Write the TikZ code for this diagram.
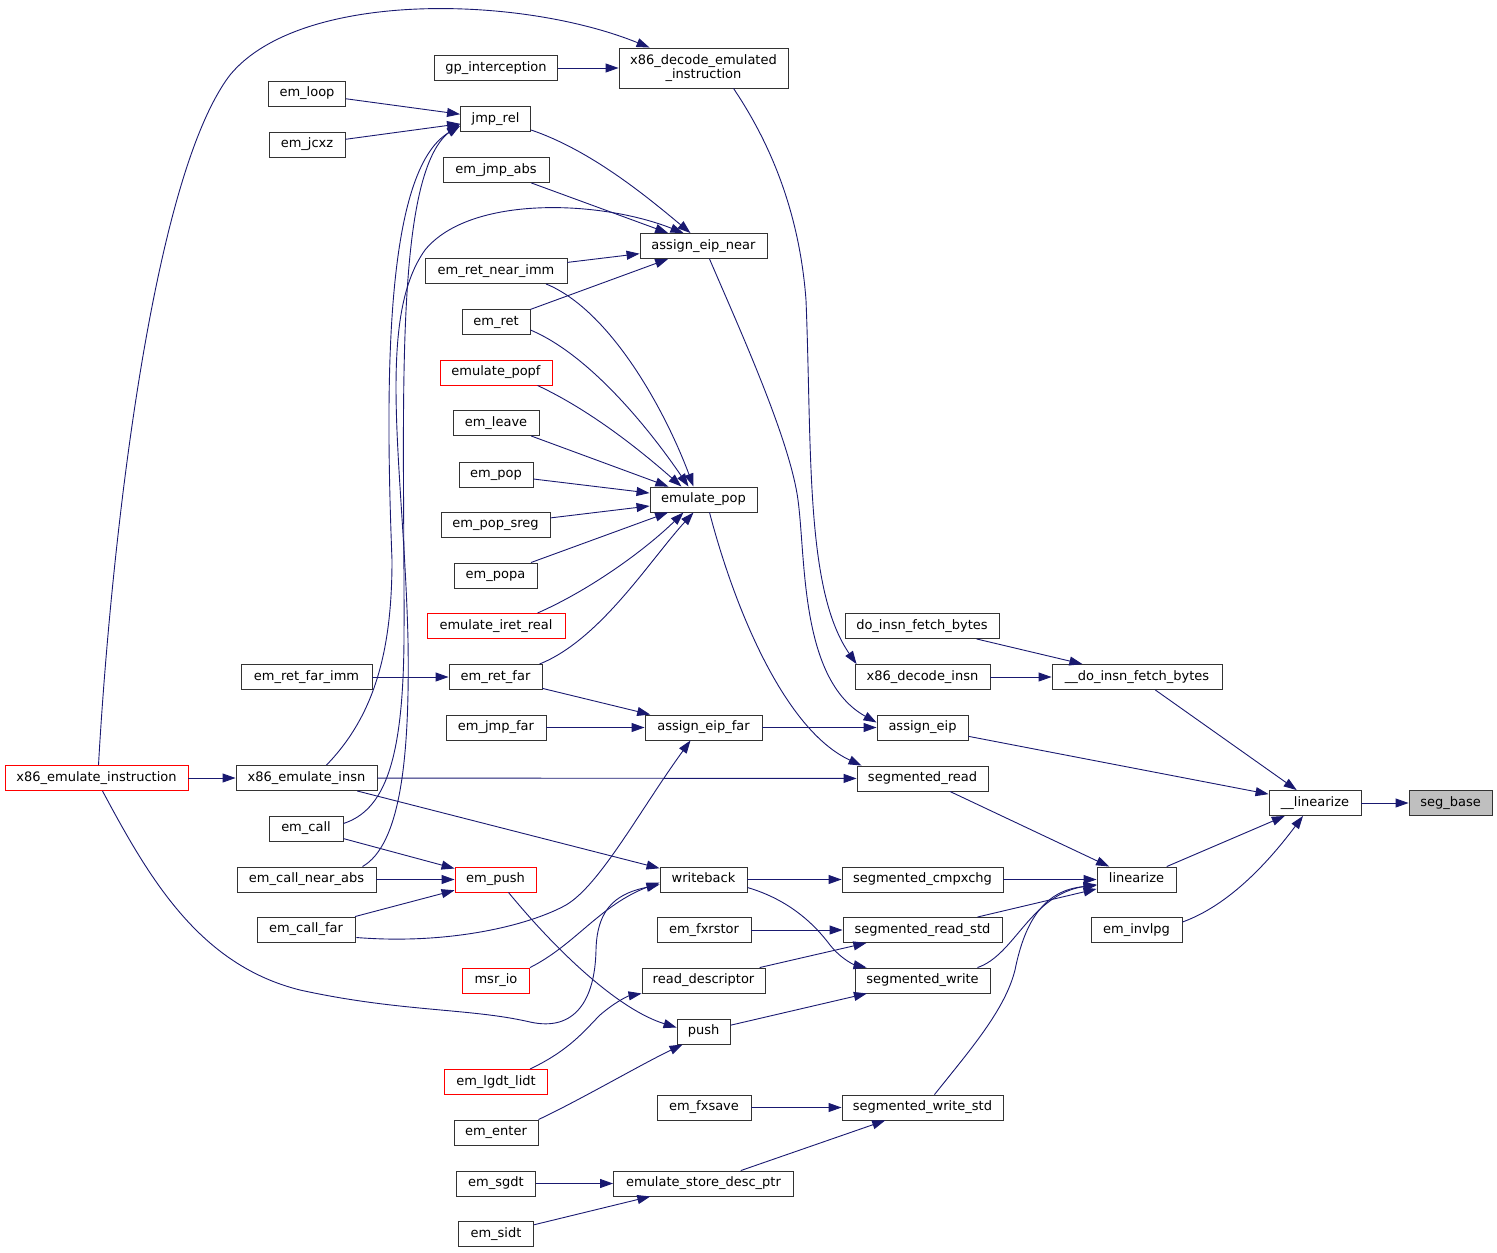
\documentclass[tikz,border=0pt]{standalone}
\usepackage{fontspec}
\setmainfont{DejaVu Sans}
\usetikzlibrary{arrows.meta,calc}
\definecolor{edgeblue}{HTML}{191970}
\begin{document}
\begin{tikzpicture}[x=1pt,y=-1pt]
  \tikzset{fn box/.style={draw=black!80, line width=0.9pt, fill=white, inner sep=0pt, minimum height=25pt, font=\fontsize{13}{14.5}\selectfont},
           fn/.style={fn box, minimum width=#1, text height=9.5pt, text depth=3pt},
           red fn/.style={fn=#1, draw=red},
           calls/.style={draw=edgeblue, line width=0.9pt, -{Triangle[length=13pt,width=9pt]}}}
  \useasboundingbox (0,0) rectangle (1497,1253);
  \node[fn=123] (gpint) at (496,68) {gp\_interception};
  \node[fn box, minimum width=169, minimum height=40, align=center] (xdecem) at (703.5,68) {x86\_decode\_emulated\\\_instruction};
  \node[fn=77] (emloop) at (307,93.5) {em\_loop};
  \node[fn=70] (jmprel) at (495.5,119) {jmp\_rel};
  \node[fn=76] (emjcxz) at (307,144.5) {em\_jcxz};
  \node[fn=106] (emjmpabs) at (496,170) {em\_jmp\_abs};
  \node[fn=127] (eipnear) at (703.5,246) {assign\_eip\_near};
  \node[fn=142] (emretnearimm) at (496,271) {em\_ret\_near\_imm};
  \node[fn=68] (emret) at (496,322) {em\_ret};
  \node[red fn=112] (emulatepopf) at (496,372.5) {emulate\_popf};
  \node[fn=86] (emleave) at (496,423) {em\_leave};
  \node[fn=74] (empop) at (496,474.5) {em\_pop};
  \node[fn=107] (emulatepop) at (703.5,499.5) {emulate\_pop};
  \node[fn=109] (empopsreg) at (495.5,524.5) {em\_pop\_sreg};
  \node[fn=83] (empopa) at (495.5,575.5) {em\_popa};
  \node[red fn=138] (emulateiret) at (496,626) {emulate\_iret\_real};
  \node[fn=154] (doinsnfetch) at (922,626) {do\_insn\_fetch\_bytes};
  \node[fn=131] (emretfarimm) at (306.5,677) {em\_ret\_far\_imm};
  \node[fn=93] (emretfar) at (495.5,677) {em\_ret\_far};
  \node[fn=135] (xdecinsn) at (922.5,677) {x86\_decode\_insn};
  \node[fn=170] (doinsnfetchu) at (1137,677) {\_\_do\_insn\_fetch\_bytes};
  \node[fn=100] (emjmpfar) at (496,727.5) {em\_jmp\_far};
  \node[fn=117] (eipfar) at (703.5,727.5) {assign\_eip\_far};
  \node[fn=91] (assigneip) at (922.5,727.5) {assign\_eip};
  \node[red fn=183] (x86emuinstr) at (96.5,778) {x86\_emulate\_instruction};
  \node[fn=141] (x86emuinsn) at (306.5,778) {x86\_emulate\_insn};
  \node[fn=131] (segread) at (922.5,778.5) {segmented\_read};
  \node[fn=92] (linearizeu) at (1315,803) {\_\_linearize};
  \node[fn=83, fill=black!25] (segbase) at (1450.5,803) {seg\_base};
  \node[fn=74] (emcall) at (306,828.5) {em\_call};
  \node[fn=139] (emcallnear) at (306.5,879.5) {em\_call\_near\_abs};
  \node[red fn=81] (empush) at (495.5,879.5) {em\_push};
  \node[fn=87] (writeback) at (703.5,879.5) {writeback};
  \node[fn=161] (segcmpxchg) at (922.5,879.5) {segmented\_cmpxchg};
  \node[fn=79] (linearize) at (1136.5,879.5) {linearize};
  \node[fn=98] (emcallfar) at (306,929.5) {em\_call\_far};
  \node[fn=94] (emfxrstor) at (704,930) {em\_fxrstor};
  \node[fn=159] (segreadstd) at (922.5,930) {segmented\_read\_std};
  \node[fn=91] (eminvlpg) at (1136.5,930) {em\_invlpg};
  \node[red fn=67] (msrio) at (496,980.5) {msr\_io};
  \node[fn=123] (readdesc) at (703.5,980.5) {read\_descriptor};
  \node[fn=135] (segwrite) at (922.5,980.5) {segmented\_write};
  \node[fn=53] (push) at (703.5,1031.5) {push};
  \node[red fn=103] (emlgdt) at (496,1082) {em\_lgdt\_lidt};
  \node[fn=94] (emfxsave) at (704,1107.5) {em\_fxsave};
  \node[fn=161] (segwritestd) at (922.5,1107.5) {segmented\_write\_std};
  \node[fn=84] (ementer) at (496,1132.5) {em\_enter};
  \node[fn=79] (emsgdt) at (496,1183.5) {em\_sgdt};
  \node[fn=180] (esdp) at (703.5,1183.5) {emulate\_store\_desc\_ptr};
  \node[fn=75] (emsidt) at (496,1234) {em\_sidt};

  \draw[calls] (gpint) -- (xdecem);
  \draw[calls] ($(x86emuinstr.north)+(2,0)$) .. controls (110,560) and (150,180) .. (230,75) .. controls (300,-10) and (520,-5) .. ($(xdecem.north west)+(31,0)$);
  \draw[calls] (emloop) -- (jmprel);
  \draw[calls] (emjcxz) -- (jmprel);
  \draw[calls] ($(x86emuinsn.north)+(20,0)$) .. controls (375,715) and (392,650) .. (392,560) .. controls (385,380) and (385,170) .. ($(jmprel.west)+(0,7)$);
  \draw[calls] ($(emcall.east)+(0,-5)$) .. controls (385,810) and (403,760) .. (404,640) .. controls (405,420) and (392,175) .. ($(jmprel.west)+(0,5)$);
  \draw[calls] ($(jmprel.south east)+(0,-2)$) .. controls (590,150) and (645,195) .. ($(eipnear.north)+(-13,0)$);
  \draw[calls] (emjmpabs) -- (eipnear);
  \draw[calls] ($(emcallnear.north)+(56,0)$) .. controls (400,845) and (410,760) .. (408,640) .. controls (404,470) and (375,320) .. (425,250) .. controls (470,195) and (600,200) .. ($(eipnear.north)+(-20,0)$);
  \draw[calls] (emretnearimm) -- (eipnear);
  \draw[calls] (emret) -- (eipnear);
  \draw[calls] ($(emretnearimm.south)+(50,0)$) .. controls (610,310) and (665,410) .. ($(emulatepop.north)+(-10,0)$);
  \draw[calls] ($(emret.east)+(0,8)$) .. controls (590,355) and (650,430) .. ($(emulatepop.north)+(-15,0)$);
  \draw[calls] ($(emulatepopf.south east)+(-15,0)$) .. controls (590,410) and (640,450) .. ($(emulatepop.north)+(-22,0)$);
  \draw[calls] (emleave) -- (emulatepop);
  \draw[calls] (empop) -- (emulatepop);
  \draw[calls] (empopsreg) -- (emulatepop);
  \draw[calls] (empopa) -- (emulatepop);
  \draw[calls] ($(emulateiret.north east)+(-28,0)$) .. controls (590,590) and (645,550) .. ($(emulatepop.south)+(-20,0)$);
  \draw[calls] ($(emretfar.north east)+(-3,0)$) .. controls (600,640) and (650,560) .. ($(emulatepop.south)+(-10,0)$);
  \draw[calls] (emretfarimm) -- (emretfar);
  \draw[calls] (emretfar) -- (eipfar);
  \draw[calls] (emjmpfar) -- (eipfar);
  \draw[calls] ($(emcallfar.east)+(1,8)$) .. controls (450,945) and (530,925) .. (566,905) .. controls (600,885) and (640,810) .. ($(eipfar.south)+(-13,0)$);
  \draw[calls] (eipfar) -- (assigneip);
  \draw[calls] ($(eipnear.south)+(6,0)$) .. controls (740,330) and (790,440) .. (798,500) .. controls (806,560) and (800,680) .. ($(assigneip.west)+(0,-5)$);
  \draw[calls] ($(xdecem.south)+(30,0)$) .. controls (775,150) and (800,220) .. (806,300) .. controls (812,450) and (805,590) .. ($(xdecinsn.north west)+(2,0)$);
  \draw[calls] (xdecinsn) -- (doinsnfetchu);
  \draw[calls] (doinsnfetch) -- (doinsnfetchu);
  \draw[calls] (doinsnfetchu) -- (linearizeu);
  \draw[calls] (assigneip) -- (linearizeu);
  \draw[calls] ($(emulatepop.south)+(6,0)$) .. controls (735,610) and (785,730) .. ($(segread.north west)+(5,0)$);
  \draw[calls] (x86emuinsn) -- (segread);
  \draw[calls] (segread) -- (linearize);
  \draw[calls] (linearize) -- (linearizeu);
  \draw[calls] ($(eminvlpg.east)+(0,-8)$) .. controls (1230,905) and (1270,860) .. ($(linearizeu.south)+(-12,0)$);
  \draw[calls] (linearizeu) -- (segbase);
  \draw[calls] (x86emuinstr) -- (x86emuinsn);
  \draw[calls] (x86emuinsn) -- (writeback);
  \draw[calls] ($(x86emuinstr.south)+(6,0)$) .. controls (150,880) and (200,965) .. (300,990) .. controls (400,1012) and (470,1008) .. (530,1022) .. controls (575,1032) and (595,1000) .. (596,950) .. controls (597,905) and (620,893) .. ($(writeback.west)+(0,5)$);
  \draw[calls] (msrio.north east) .. controls (575,945) and (600,905) .. ($(writeback.west)+(0,3)$);
  \draw[calls] (emcall) -- (empush);
  \draw[calls] (emcallnear) -- (empush);
  \draw[calls] (emcallfar) -- (empush);
  \draw[calls] (writeback) -- (segcmpxchg);
  \draw[calls] (segcmpxchg) -- (linearize);
  \draw[calls] ($(writeback.east)+(0,8)$) .. controls (790,900) and (815,925) .. (830,945) .. controls (842,960) and (855,965) .. ($(segwrite.north west)+(12,0)$);
  \draw[calls] (emfxrstor) -- (segreadstd);
  \draw[calls] (segreadstd) -- (linearize);
  \draw[calls] (readdesc) -- (segreadstd);
  \draw[calls] ($(segwrite.north east)+(-13,0)$) .. controls (1015,955) and (1030,895) .. ($(linearize.west)+(0,5)$);
  \draw[calls] ($(segwritestd.north)+(12,0)$) .. controls (970,1050) and (1005,1010) .. (1015,970) .. controls (1025,920) and (1045,890) .. ($(linearize.west)+(0,6)$);
  \draw[calls] ($(empush.south)+(13,0)$) .. controls (560,955) and (620,1010) .. ($(push.west)+(0,-4)$);
  \draw[calls] ($(emlgdt.north east)+(-18,0)$) .. controls (570,1050) and (585,1030) .. (600,1015) .. controls (615,1002) and (628,996) .. (readdesc.south west);
  \draw[calls] (push) -- (segwrite);
  \draw[calls] (ementer.north east) .. controls (580,1100) and (640,1065) .. ($(push.south west)+(6,0)$);
  \draw[calls] (emfxsave) -- (segwritestd);
  \draw[calls] (esdp) -- (segwritestd);
  \draw[calls] (emsgdt) -- (esdp);
  \draw[calls] (emsidt) -- (esdp);
\end{tikzpicture}
\end{document}
